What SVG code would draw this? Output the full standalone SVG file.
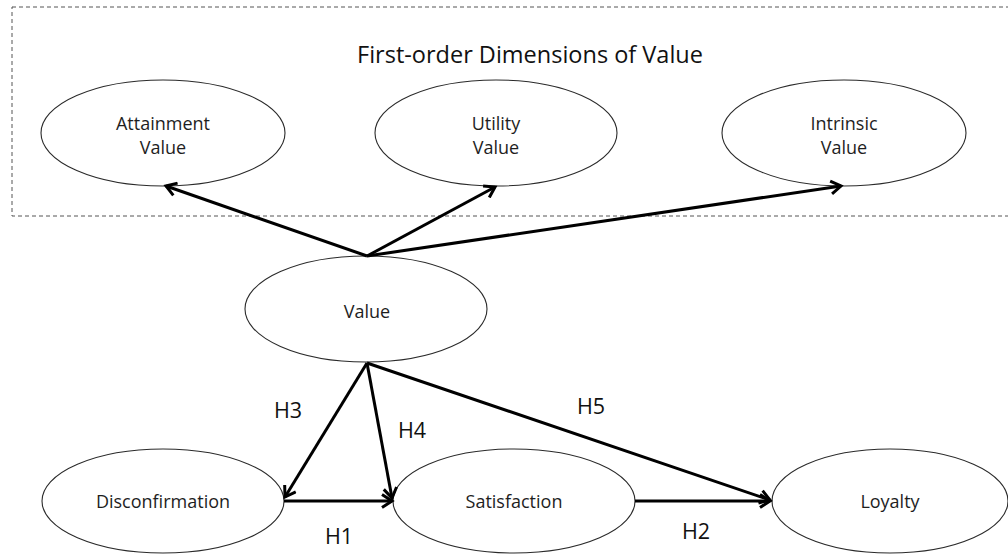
<svg xmlns="http://www.w3.org/2000/svg" width="1008" height="554" viewBox="0 0 1008 554">
<defs>
<style>
.node ellipse{fill:#fff;stroke:#2a2a2a;stroke-width:1.1}
.lbl{font-family:"Open Sans","Liberation Sans",sans-serif;font-size:18px;fill:#1e1e1e;text-anchor:middle}
.h{font-family:"Open Sans","Liberation Sans",sans-serif;font-size:21.5px;fill:#111}
.edge{stroke:#000;stroke-width:3;fill:none;marker-end:url(#arr)}
</style>
<marker id="arr" viewBox="-13 -8 16 16" refX="0" refY="0" markerWidth="16" markerHeight="16" markerUnits="userSpaceOnUse" orient="auto">
<path d="M-10,-6.5 L0,0 L-10,6.5" fill="none" stroke="#000" stroke-width="3"/>
</marker>
</defs>
<rect x="12" y="7" width="1010" height="209" fill="none" stroke="#555" stroke-width="1" stroke-dasharray="4,3"/>
<text x="530" y="63" font-family="'Open Sans','Liberation Sans',sans-serif" font-size="23.5" fill="#111" text-anchor="middle">First-order Dimensions of Value</text>
<g id="attainment" class="node"><ellipse cx="163" cy="133" rx="122" ry="53"/><text class="lbl" x="163" y="130">Attainment</text><text class="lbl" x="163" y="154">Value</text></g>
<g id="utility" class="node"><ellipse cx="496" cy="133" rx="121" ry="53"/><text class="lbl" x="496" y="130">Utility</text><text class="lbl" x="496" y="154">Value</text></g>
<g id="intrinsic" class="node"><ellipse cx="844" cy="133" rx="122" ry="53"/><text class="lbl" x="844" y="130">Intrinsic</text><text class="lbl" x="844" y="154">Value</text></g>
<g id="value" class="node"><ellipse cx="366" cy="309" rx="121" ry="53"/><text class="lbl" x="367" y="318">Value</text></g>
<g id="disconfirmation" class="node"><ellipse cx="163" cy="501" rx="121" ry="52"/><text class="lbl" x="163" y="508">Disconfirmation</text></g>
<g id="satisfaction" class="node"><ellipse cx="514" cy="501" rx="121" ry="52"/><text class="lbl" x="514" y="508">Satisfaction</text></g>
<g id="loyalty" class="node"><ellipse cx="890" cy="501" rx="118" ry="52"/><text class="lbl" x="890" y="508">Loyalty</text></g>
<g id="connectors">
<line class="edge" x1="367" y1="256" x2="166" y2="186"/>
<line class="edge" x1="367" y1="256" x2="495" y2="187"/>
<line class="edge" x1="367" y1="256" x2="841" y2="186"/>
<line class="edge" x1="367" y1="363" x2="285" y2="497"/>
<line class="edge" x1="367" y1="363" x2="392" y2="498"/>
<line class="edge" x1="367" y1="363" x2="770" y2="500"/>
<line class="edge" x1="284" y1="501" x2="392" y2="501"/>
<line class="edge" x1="635" y1="501" x2="770" y2="501"/>
<text class="h" x="274" y="418">H3</text>
<text class="h" x="398" y="438">H4</text>
<text class="h" x="577" y="414">H5</text>
<text class="h" x="325" y="544">H1</text>
<text class="h" x="682" y="539">H2</text>
</g>
</svg>
